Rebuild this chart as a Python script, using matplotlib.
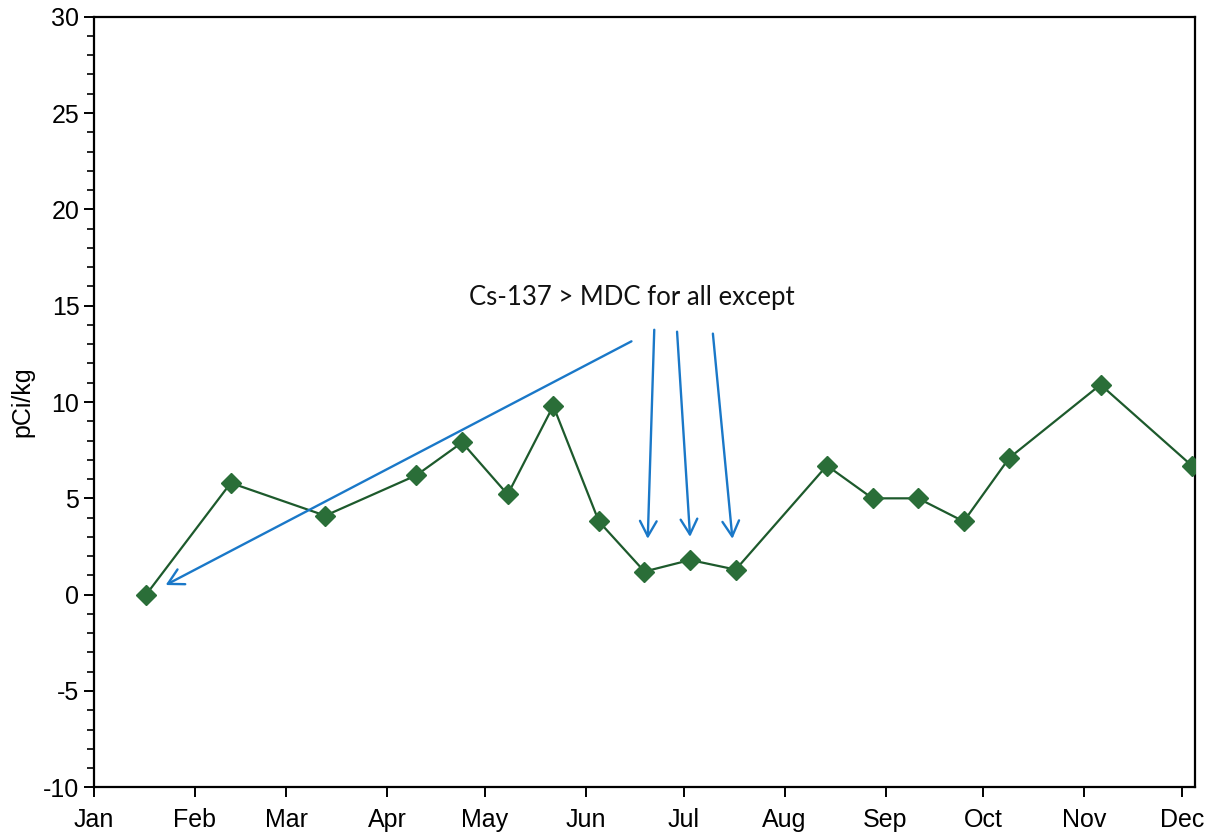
import datetime as dt
import matplotlib
matplotlib.use("Agg")
import matplotlib.pyplot as plt
import matplotlib.dates as mdates

plt.rcParams['font.family'] = ['Liberation Sans', 'DejaVu Sans']
plt.rcParams['axes.unicode_minus'] = False

# sample dates and Cs-137 results (pCi/kg)
dates = ['2011-01-17', '2011-02-12', '2011-03-13', '2011-04-10', '2011-04-24',
         '2011-05-08', '2011-05-22', '2011-06-05', '2011-06-19', '2011-07-03',
         '2011-07-17', '2011-08-14', '2011-08-28', '2011-09-11', '2011-09-25',
         '2011-10-09', '2011-11-06', '2011-12-04']
values = [0.0, 5.8, 4.1, 6.2, 7.9, 5.2, 9.8, 3.8, 1.2, 1.8, 1.3,
          6.7, 5.0, 5.0, 3.8, 7.1, 10.9, 6.7]

note_text = 'Cs-137 > MDC for all except'
note_pos = ('2011-06-15', 15.45)
# arrow (tip, tail) pairs
arrows = [(('2011-01-23', 0.5), ('2011-06-15', 13.15)),
          (('2011-06-20', 2.9), ('2011-06-22', 13.75)),
          (('2011-07-03', 3.0), ('2011-06-29', 13.65)),
          (('2011-07-16', 2.9), ('2011-07-10', 13.55))]


def d(s):
    return mdates.date2num(dt.datetime.strptime(s, '%Y-%m-%d'))


fig = plt.figure(figsize=(12.19, 8.35), dpi=100)
ax = fig.add_axes([0.0771, 0.0571, 0.9032, 0.9229])

ax.plot([d(s) for s in dates], values, color='#1d5a2c', lw=1.6,
        marker='D', ms=10, mfc='#2a6e38', mec='#2a6e38', zorder=3)

for tip, tail in arrows:
    ax.annotate('', xy=(d(tip[0]), tip[1]), xytext=(d(tail[0]), tail[1]),
                arrowprops=dict(arrowstyle='->,head_length=1.1,head_width=0.6',
                                color='#1a78c8', lw=1.7, shrinkA=0, shrinkB=0))

ax.text(d(note_pos[0]), note_pos[1], note_text, ha='center', va='center',
        fontsize=18.5, family=['Lato', 'DejaVu Sans'], color='#111111')

ax.set_xlim(d('2011-01-01'), d('2011-12-05'))
ax.set_ylim(-10, 30)
ax.xaxis.set_major_locator(mdates.MonthLocator())
ax.xaxis.set_major_formatter(mdates.DateFormatter('%b'))
ax.set_yticks(range(-10, 31, 5))
ax.set_yticks(range(-10, 31), minor=True)

for side in ['top', 'right', 'bottom', 'left']:
    ax.spines[side].set_linewidth(1.6)
ax.tick_params(axis='both', which='major', labelsize=18, length=7, width=1.4)
ax.tick_params(axis='y', which='minor', length=5, width=1.2)
ax.tick_params(axis='x', pad=8)

ax.set_ylabel('pCi/kg', fontsize=18)
ax.yaxis.set_label_coords(-0.054, 0.5)

fig.savefig('out.png', dpi=100)
